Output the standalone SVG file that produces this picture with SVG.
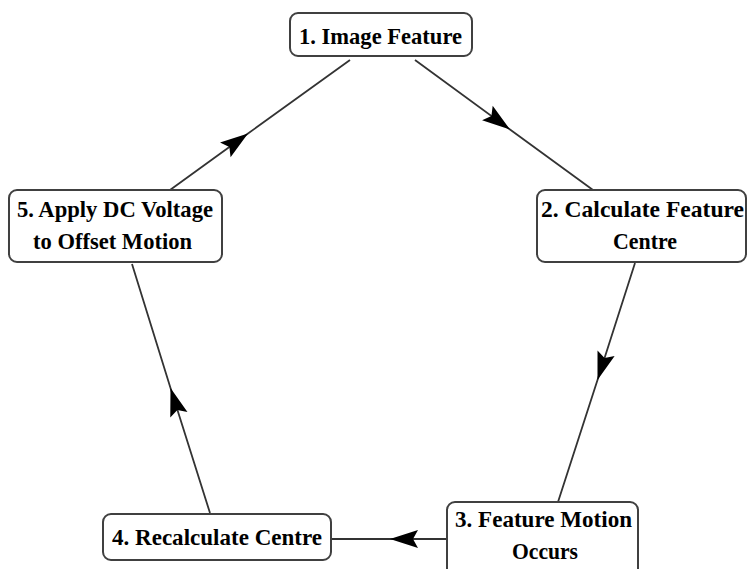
<svg xmlns="http://www.w3.org/2000/svg" width="747" height="569" viewBox="0 0 747 569">
<defs>
<style>
.box{fill:#fff;stroke:#404040;stroke-width:2}
.lbl{font-family:"Liberation Serif","Times New Roman",serif;font-weight:bold;font-size:23px;fill:#000;text-anchor:middle}
.edge{fill:none;stroke:#333;stroke-width:1.8;marker-mid:url(#arr)}
</style>
<marker id="arr" markerUnits="userSpaceOnUse" markerWidth="32" markerHeight="22" viewBox="-30 -11 32 22" refX="0" refY="0" orient="auto">
<path d="M0,0 L-28,-9 L-23,0 L-28,9 Z" fill="#000"/>
</marker>
</defs>
<rect width="747" height="569" fill="#fff"/>
<g id="connectors">
<path class="edge" d="M415,60 L510,129.5 L593,190"/>
<path class="edge" d="M635,263 L597.5,380 L558,502"/>
<path class="edge" d="M447,539 L390,539 L331,539"/>
<path class="edge" d="M210,513 L170.5,388 L132,264"/>
<path class="edge" d="M170,190 L248,133.5 L350,60"/>
</g>
<g id="node1">
<rect class="box" x="290" y="13" width="182" height="43" rx="8"/>
<text class="lbl" x="380.5" y="44" textLength="163" lengthAdjust="spacingAndGlyphs">1. Image Feature</text>
</g>
<g id="node2">
<rect class="box" x="537" y="190" width="209" height="72" rx="8"/>
<text class="lbl" x="642.5" y="216.5" textLength="203" lengthAdjust="spacingAndGlyphs">2. Calculate Feature</text>
<text class="lbl" x="645" y="248.5" textLength="64" lengthAdjust="spacingAndGlyphs">Centre</text>
</g>
<g id="node3">
<rect class="box" x="447" y="502" width="191" height="80" rx="8"/>
<text class="lbl" x="543.5" y="526.5" textLength="177" lengthAdjust="spacingAndGlyphs">3. Feature Motion</text>
<text class="lbl" x="545" y="558.5" textLength="66" lengthAdjust="spacingAndGlyphs">Occurs</text>
</g>
<g id="node4">
<rect class="box" x="103" y="514" width="228" height="46" rx="8"/>
<text class="lbl" x="217" y="545" textLength="210" lengthAdjust="spacingAndGlyphs">4. Recalculate Centre</text>
</g>
<g id="node5">
<rect class="box" x="9" y="190" width="213" height="72" rx="8"/>
<text class="lbl" x="115" y="216.5" textLength="196" lengthAdjust="spacingAndGlyphs">5. Apply DC Voltage</text>
<text class="lbl" x="112.5" y="248.5" textLength="159" lengthAdjust="spacingAndGlyphs">to Offset Motion</text>
</g>
</svg>
